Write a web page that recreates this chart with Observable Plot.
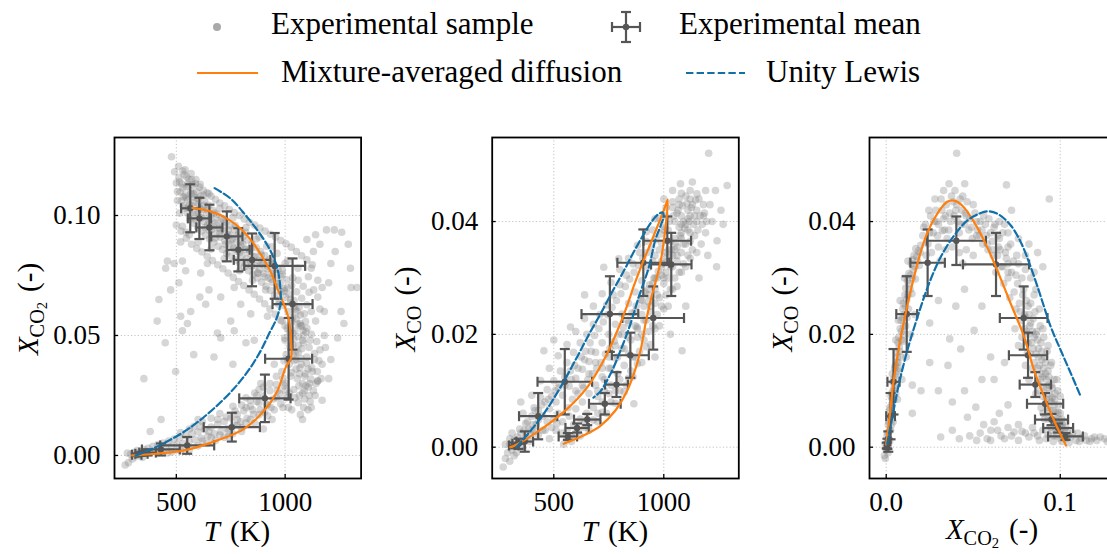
<!DOCTYPE html>
<html><head><meta charset="utf-8">
<script src="https://cdn.jsdelivr.net/npm/d3@7"></script>
<script src="https://cdn.jsdelivr.net/npm/@observablehq/plot@0.6"></script>
<style>
html,body{margin:0;padding:0;background:#fff;overflow:hidden;width:1107px;height:554px;}
#root{position:relative;width:1107px;height:554px;overflow:hidden;font-family:'Liberation Serif',serif;color:#000;}
.panel{position:absolute;top:100px;width:370px;height:454px;}
.lbl{position:absolute;font-size:29px;white-space:nowrap;transform:translate(-50%,-50%);line-height:1;}
.ylbl{transform:translate(-50%,-50%) rotate(-90deg);}
.sub{font-size:0.7em;position:relative;top:0.3em;}
.sub2{font-size:0.72em;position:relative;top:0.22em;}
.par{margin-left:10px;}
#legend{position:absolute;left:0;top:0;}
</style></head><body><div id="root">
<svg id="legend" width="1107" height="100" font-family="'Liberation Serif', serif" font-size="31">
  <circle cx="217" cy="27" r="4" fill="#a9a9a9"></circle>
  <text x="271" y="34">Experimental sample</text>
  <g stroke="#555" stroke-width="2.2" fill="none">
    <line x1="612" y1="27" x2="640" y2="27"></line>
    <line x1="612" y1="22" x2="612" y2="32"></line>
    <line x1="640" y1="22" x2="640" y2="32"></line>
    <line x1="626" y1="12" x2="626" y2="42"></line>
    <line x1="621" y1="12" x2="631" y2="12"></line>
    <line x1="621" y1="42" x2="631" y2="42"></line>
  </g>
  <circle cx="626" cy="27" r="3.2" fill="#555"></circle>
  <text x="679" y="34">Experimental mean</text>
  <line x1="197" y1="73" x2="258" y2="73" stroke="#ff7f0e" stroke-width="2.2"></line>
  <text x="281" y="82">Mixture-averaged diffusion</text>
  <line x1="686" y1="73" x2="745" y2="73" stroke="#1170aa" stroke-width="2.2" stroke-dasharray="7.4,3.2"></line>
  <text x="766" y="82">Unity Lewis</text>
</svg>
<div class="panel" id="p1" style="left:0px"></div>
<div class="panel" id="p2" style="left:375px"></div>
<div class="panel" id="p3" style="left:750px"></div>
<div class="lbl ylbl" style="left:28px;top:309px"><i>X</i><span class="sub">CO<span class="sub2">2</span></span><span class="par">(-)</span></div>
<div class="lbl ylbl" style="left:405px;top:309px"><i>X</i><span class="sub">CO</span><span class="par">(-)</span></div>
<div class="lbl ylbl" style="left:782px;top:309px"><i>X</i><span class="sub">CO</span><span class="par">(-)</span></div>
<div class="lbl" style="left:237px;top:531px"><i>T</i><span class="par">(K)</span></div>
<div class="lbl" style="left:615px;top:531px"><i>T</i><span class="par">(K)</span></div>
<div class="lbl" style="left:992px;top:529px"><i>X</i><span class="sub">CO<span class="sub2">2</span></span><span class="par">(-)</span></div>
</div>
<script>
// ---------- data ----------
const xTicksT = [500, 1000];
const yTicksCO2 = [0, 0.05, 0.10];
const yTicksCO = [0, 0.02, 0.04];
const xTicksCO2 = [0, 0.1];

// experimental means and standard deviations
const meanT   = [318, 340, 368, 429, 550, 755, 907, 1016, 1034, 952, 848, 785, 732, 652, 606, 564];
const sdT     = [22, 28, 38, 87, 124, 129, 118, 108, 92, 140, 84, 52, 72, 60, 53, 42];
const meanCO2 = [.0003, .0007, .0012, .0025, .0042, .0118, .0238, .0403, .0631, .0790, .0815, .0857, .0913, .0950, .0988, .1030];
const sdCO2   = [.0005, .0008, .0012, .0025, .0035, .0060, .0099, .0170, .0190, .0137, .0110, .0090, .0104, .0095, .0086, .0100];
const meanCO  = [.0003, .0006, .0010, .0055, .0116, .0236, .0327, .0366, .0324, .0229, .0163, .0111, .0077, .0049, .0034, .0019];
const sdCO    = [.0005, .0009, .0018, .0041, .0058, .0067, .0059, .0043, .0056, .0056, .0040, .0022, .0019, .0010, .0008, .0006];

// model curves
const mixT_CO2 = [[297,0],[382,.0005],[535,.0021],[689,.0063],[811,.0111],[903,.0186],[965,.027],[1003,.0368],[1027,.0405],[1028,.046],[1018,.0563],[992,.0635],[965,.0694],[934,.0764],[896,.0826],[850,.0889],[796,.0945],[735,.0986],[658,.1017],[574,.1032]];
const lewisT_CO2 = [[313,0],[382,.0025],[520,.009],[620,.0155],[712,.0229],[785,.03],[842,.0368],[890,.044],[926,.0507],[957,.0563],[974,.0610],[980,.0650],[977,.0708],[968,.0764],[949,.082],[919,.0875],[873,.0938],[819,.1],[750,.107],[676,.1114]];
const mixT_CO = [[303,0],[318,.0002],[425,.0027],[561,.0068],[652,.0106],[727,.0154],[782,.0200],[828,.0245],[866,.0288],[905,.0328],[945,.0366],[980,.0400],[1005,.0425],[1018,.0439],[1008,.0390],[986,.0330],[962,.0292],[940,.0260],[917,.0219],[894,.0171],[864,.0130],[827,.0095],[780,.0065],[712,.0038],[636,.0021],[545,.0006]];
const lewisT_CO = [[330,0],[371,.0018],[454,.0059],[530,.0106],[606,.016],[660,.0200],[712,.0236],[765,.0275],[815,.0310],[862,.0345],[905,.0375],[945,.0400],[975,.0413],[995,.0416],[1000,.0410],[985,.0392],[962,.0368],[932,.0319],[886,.0266],[849,.0219],[803,.0171],[758,.013],[710,.0098],[680,.0088]];
const mixCO2_CO = [[0,.0005],[.0019,.0053],[.004,.0112],[.0073,.0177],[.0115,.0242],[.0169,.0313],[.0226,.0372],[.0294,.0414],[.0351,.0435],[.039,.0437],[.0438,.0428],[.0505,.0399],[.0572,.036],[.0639,.0313],[.0716,.0254],[.0793,.0195],[.085,.0136],[.0908,.0089],[.0965,.0047],[.1033,.0003]];
const lewisCO2_CO = [[.0006,.0006],[.0035,.0053],[.0073,.0112],[.0121,.0171],[.0179,.023],[.0246,.029],[.0313,.0337],[.039,.0375],[.0467,.0402],[.0543,.0415],[.0591,.0418],[.0649,.0412],[.0716,.0393],[.0774,.0363],[.0831,.0319],[.0889,.0266],[.0946,.0213],[.1004,.0171],[.1062,.013],[.1119,.0089]];

// experimental samples, panel 1 (T, X_CO2)
const sampleT_CO2 = [
[478,.1245],[492,.1182],[500,.1135],[512,.1158],[505,.1062],[518,.1098],[525,.1131],[531,.1040],[536,.1170],[541,.1085],[546,.1120],[550,.1010],[553,.1065],[558,.1150],[562,.0985],[566,.1102],[571,.1042],[575,.1128],[580,.0968],[584,.1075],[589,.1012],[593,.1100],[598,.0950],[602,.1048],[607,.0992],[611,.1080],[616,.0935],[620,.1025],[625,.0975],[630,.1060],[634,.0918],[639,.1005],[644,.0960],[649,.1042],[653,.0902],[658,.0985],[663,.0942],[668,.1022],[672,.0888],[677,.0968],[682,.0925],[687,.1005],[692,.0872],[697,.0950],[702,.0910],[707,.0988],[712,.0858],[717,.0935],[722,.0895],[727,.0972],[732,.0842],[737,.0918],[742,.0880],[747,.0958],[752,.0830],[757,.0902],[762,.0865],[767,.0942],[772,.0815],[777,.0888],[782,.0850],[787,.0928],[792,.0800],[797,.0873],[802,.0835],[807,.0912],[812,.0785],[817,.0858],[822,.0820],[827,.0898],[832,.0770],[837,.0843],[842,.0805],[847,.0882],[852,.0755],[857,.0828],[862,.0790],[867,.0866],[872,.0740],[877,.0812],[882,.0775],[887,.0850],[892,.0722],[897,.0795],[902,.0758],[907,.0833],[912,.0705],[917,.0778],[922,.0740],[927,.0815],[932,.0688],[937,.0760],[942,.0722],[947,.0796],[952,.0668],[957,.0740],[962,.0702],[967,.0776],[972,.0648],[977,.0718],[982,.0682],[987,.0755],[992,.0625],[997,.0695],[1002,.0660],[1008,.0732],[1013,.0600],[1018,.0672],[1024,.0636],[1030,.0708],[1035,.0575],[1041,.0646],[1047,.0610],[1053,.0682],[1058,.0548],[1064,.0618],[1070,.0585],[1076,.0655],[1082,.0522],[1088,.0590],[1094,.0558],[1100,.0628],
[515,.1010],[528,.0955],[545,.0930],[560,.0920],[520,.0890],[540,.1190],[568,.1175],[590,.1150],[610,.1130],[650,.1090],[700,.1030],[760,.0990],[820,.0950],[880,.0910],[940,.0870],[1000,.0800],[1060,.0730],[1110,.0680],[600,.0890],[660,.0860],[720,.0820],[790,.0770],[850,.0730],[910,.0690],[970,.0630],[1030,.0560],
[510,.1205],[530,.1185],[548,.1160],[570,.1150],[588,.1132],[606,.1118],[624,.1105],[642,.1095],[660,.1080],[680,.1066],[700,.1052],[722,.1040],[744,.1025],[766,.1012],[790,.1000],[812,.0985],[836,.0972],[860,.0960],[884,.0948],[908,.0935],[932,.0922],[956,.0910],[980,.0896],[1004,.0882],[1028,.0868],[1052,.0850],[1076,.0832],[1100,.0815],[1125,.0795],
[500,.0960],[522,.0935],[546,.0905],[570,.0880],[594,.0862],[618,.0848],[642,.0830],[666,.0812],[690,.0795],[714,.0778],[738,.0760],[762,.0742],[786,.0725],[810,.0708],[834,.0690],[858,.0672],[882,.0652],[906,.0632],[930,.0610],[954,.0588],[978,.0565],[1000,.0540],[1020,.0512],[1040,.0485],[1060,.0458],
[533,.1078],[556,.1032],[579,.1090],[603,.1015],[627,.1042],[651,.0975],[675,.1010],[699,.0945],[723,.0985],[747,.0918],[771,.0958],[795,.0890],[819,.0930],[843,.0862],[867,.0902],[891,.0835],[915,.0872],[939,.0805],[963,.0842],[987,.0772],[1011,.0812],[1035,.0740],[1059,.0780],[1083,.0705],[1107,.0745],[1131,.0690],[1150,.0730],[1120,.0600],[1140,.0560],[1160,.0610],[1100,.0530],[1080,.0480],[1115,.0480],[1135,.0400],[1170,.0380],[1185,.0450],
[505,.1100],[515,.1140],[523,.1060],[530,.1115],[538,.1030],[545,.1075],[552,.1130],[560,.1045],[568,.1090],[575,.1005],[583,.1055],[591,.0980],[600,.1070],[608,.1030],[616,.0990],[625,.1085],[633,.0950],[641,.1025],[650,.0940],[660,.1000],[670,.0955],[680,.0905],[690,.0980],[700,.0925],[712,.0960],[725,.0880],[738,.0940],[750,.0895],[765,.0860],[778,.0915],[790,.0845],[805,.0880],[818,.0800],[832,.0860],[846,.0790],[860,.0830],[875,.0760],[890,.0800],[905,.0745],[920,.0790],[935,.0735],[950,.0770],[965,.0715],[980,.0745],[995,.0685],[1010,.0700],[1025,.0650],[1040,.0620],[1055,.0600],[1070,.0540],[1085,.0500],[1045,.0520],[1060,.0430],[1075,.0380],[1090,.0330],[1105,.0360],[1035,.0460],[1050,.0400],[1065,.0340],[1080,.0260],[1095,.0290],[1110,.0250],
[985,.0560],[998,.0490],[1010,.0530],[1022,.0455],[1035,.0510],[1048,.0430],[1060,.0495],[1072,.0405],[1085,.0470],[1098,.0385],[1110,.0450],[1122,.0365],[1135,.0425],[1148,.0350],[1005,.0420],[1018,.0380],[1030,.0345],[1043,.0395],[1056,.0320],[1068,.0365],[1080,.0300],[1093,.0340],[1106,.0285],[1118,.0318],[1130,.0270],[1142,.0300],[1155,.0395],[1165,.0320],[1040,.0275],[1065,.0250],[1090,.0235],[1115,.0225],[1000,.0300],[1020,.0260],[995,.0395],[1075,.0540],[1095,.0515],[1120,.0505],[1145,.0475],[1050,.0570],[1160,.0440],
[1000,.0480],[1012,.0400],[1025,.0330],[1038,.0420],[1050,.0360],[1063,.0290],[1076,.0445],[1088,.0270],[1100,.0410],[1112,.0300],[1125,.0350],[1138,.0250],[1150,.0310],[1060,.0220],[1085,.0200],[1105,.0190],[1045,.0240],[1015,.0200],[1030,.0190],[1070,.0170],
[265,-.0040],[275,.0010],[280,-.0030],[290,.0005],[298,-.0015],[305,.0012],[312,-.0005],[320,.0020],[328,.0002],[336,.0015],[344,-.0008],[352,.0025],[360,.0008],[370,.0030],[380,.0012],[392,.0038],[404,.0018],[416,.0045],[428,.0025],[440,.0052],[452,.0030],[465,.0060],[478,.0038],[490,.0068],[503,.0045],[516,.0075],[530,.0050],[544,.0082],[558,.0058],[572,.0090],[586,.0065],[600,.0098],[615,.0072],[630,.0108],[645,.0080],[660,.0118],[675,.0090],[690,.0130],[705,.0100],[720,.0142],[735,.0112],[750,.0156],[765,.0125],[780,.0170],[795,.0140],[810,.0186],[825,.0155],[840,.0205],[855,.0172],[870,.0225],[885,.0190],[900,.0248],[915,.0212],[930,.0270],[945,.0235],[960,.0295],[975,.0258],[990,.0320],[700,.0175],[760,.0205],[820,.0240],[880,.0275],[740,.0080],[800,.0100],[860,.0135],[920,.0165],[660,.0155],[620,.0140],[580,.0120],[540,.0030],[480,.0015],[950,.0190],[980,.0215],[1005,.0240],
[560,.0025],[600,.0040],[640,.0050],[680,.0062],[720,.0075],[760,.0090],[800,.0115],[840,.0150],[880,.0170],[920,.0210],[960,.0240],[520,.0020],[460,.0010],[420,.0012],[610,.0120],[650,.0100],[690,.0150],[730,.0160],[770,.0185],[800,.0210],[840,.0230],[870,.0250],[900,.0285],[930,.0300],[960,.0330],[985,.0350],[1000,.0270],[990,.0200],[940,.0150],[900,.0110],[560,.0110],[520,.0095],[600,.0150],
[620,.0060],[660,.0075],[700,.0085],[740,.0100],[780,.0125],[820,.0135],[850,.0190],[880,.0220],[905,.0180],[935,.0200],[965,.0270],[995,.0290],[860,.0260],[820,.0200],[780,.0150],
[459,.0810],[451,.0780],[490,.0800],[528,.0810],[543,.0770],[512,.0720],[474,.0690],[612,.0760],[650,.0690],[635,.0630],[566,.0600],[551,.0550],[528,.0520],[420,.0650],[412,.0560],[449,.0470],[643,.0800],[689,.0510],[750,.0560],[766,.0520],[796,.0630],[873,.0760],[858,.0480],[704,.0490],[673,.0410],[497,.0350],[351,.0320],[608,.0660],[704,.0660],[766,.0700],[842,.0590],[919,.0580],[950,.0380],[888,.0300],[1069,.0550],[580,.0420],[520,.0580],[760,.0380],[820,.0470],[1226,.0940],[1303,.0700],[1257,.0600],[1210,.0400],[1149,.0310],[1241,.0490],[1180,.0600],[1200,.0720],[1230,.0850],[1260,.0930],[1290,.0880],[1160,.0880],[1190,.0940],[1210,.0800],[1140,.0920],[1120,.0780],[1170,.0700],[1300,.0780],[1270,.0550],[1150,.0660],[1330,.0700],[1180,.0500],[1130,.0850],[1100,.0900],[1200,.0320],[380,.0100],[430,.0150],[1080,.0150],[1120,.0200],[1170,.0230]
];

// experimental samples, panel 2 (T, X_CO)
const sampleT_CO = [
[545,.0005],[560,.0015],[580,.0010],[600,.0025],[620,.0020],[640,.0035],[660,.0030],[680,.0048],[700,.0045],[720,.0062],[740,.0060],[760,.0080],[780,.0078],[800,.0100],[820,.0098],[840,.0122],[860,.0125],[880,.0148],[900,.0150],[920,.0178],[940,.0182],[960,.0210],[980,.0215],[1000,.0245],[1020,.0250],[1040,.0280],[1060,.0285],[1080,.0310],[1100,.0320],[1120,.0335],
[480,.0015],[510,.0030],[540,.0045],[570,.0055],[600,.0068],[630,.0080],[660,.0095],[690,.0110],[720,.0125],[750,.0140],[780,.0158],[810,.0175],[840,.0195],[870,.0215],[900,.0235],[930,.0258],[960,.0280],[990,.0305],[1020,.0330],[1050,.0350],[1080,.0370],[1110,.0385],[1140,.0375],
[420,.0040],[450,.0055],[480,.0068],[510,.0080],[540,.0092],[570,.0108],[600,.0122],[630,.0138],[660,.0152],[690,.0168],[720,.0185],[750,.0200],[780,.0218],[810,.0236],[840,.0255],[870,.0275],[900,.0295],[930,.0318],[960,.0340],[990,.0362],[1020,.0385],[1050,.0400],[1080,.0410],[1110,.0420],[1140,.0410],
[380,.0045],[410,.0070],[440,.0088],[470,.0102],[500,.0118],[530,.0135],[560,.0150],[590,.0168],[620,.0185],[650,.0200],[680,.0218],[710,.0235],[740,.0252],[770,.0270],[800,.0288],[830,.0305],[860,.0325],[890,.0345],[920,.0365],[950,.0385],[980,.0405],[1010,.0425],[1040,.0435],[1070,.0440],[1100,.0445],
[360,.0060],[400,.0092],[440,.0118],[480,.0140],[520,.0162],[560,.0182],[600,.0205],[640,.0228],[680,.0250],[720,.0272],[760,.0292],[800,.0315],[840,.0335],[880,.0358],[920,.0382],[960,.0405],[1000,.0440],[1040,.0455],
[270,-.0035],[280,-.0020],[290,-.0010],[300,.0005],[310,-.0005],[318,.0012],[326,.0002],[334,.0018],[342,.0008],[350,.0025],[358,.0012],[366,.0030],[374,.0018],[385,.0032],[395,.0022],[405,.0040],[415,.0028],[430,.0022],[450,.0030],[470,.0045],[500,.0050],[520,.0060],[280,.0005],[300,-.0025],[320,-.0015],
[860,.0160],[880,.0195],[900,.0200],[920,.0225],[940,.0240],[960,.0255],[980,.0265],[1000,.0290],[1020,.0300],[1040,.0320],[1060,.0330],[1080,.0345],[1100,.0360],[1120,.0365],[1150,.0345],[1170,.0360],[1190,.0380],[1150,.0420],[1180,.0430],[1120,.0440],[1060,.0415],[1000,.0385],[950,.0330],[980,.0350],[1010,.0345],[1030,.0365],[1070,.0390],[1090,.0400],[760,.0110],[790,.0130],[820,.0145],[840,.0165],[700,.0090],[730,.0100],[650,.0060],[620,.0050],[590,.0040],[560,.0030],[680,.0070],
[300,.0015],[310,.0025],[330,-.0010],[345,.0032],[360,-.0002],[372,.0042],[390,.0010],[400,.0055],[415,.0065],[430,.0048],[445,.0075],[460,.0030],[475,.0085],[490,.0035],[505,.0100],[515,.0042],[525,.0112],[535,.0025],[550,.0125],[565,.0070],[575,.0135],[585,.0085],[595,.0145],[610,.0095],[625,.0160],[635,.0105],[645,.0170],[655,.0120],[665,.0185],[675,.0130],[685,.0198],[695,.0140],[705,.0210],[715,.0150],[725,.0222],[735,.0165],[745,.0235],[755,.0175],[765,.0248],[775,.0188],[785,.0260],[795,.0200],[805,.0272],[815,.0212],[825,.0285],[835,.0225],[845,.0298],[855,.0238],[865,.0310],[875,.0250],[885,.0322],[895,.0262],[905,.0335],[915,.0275],[925,.0345],[935,.0288],[945,.0355],[955,.0300],[965,.0368],[975,.0312],[985,.0378],[995,.0325],[1005,.0390],[1015,.0338],[1025,.0400],[1035,.0350],[1045,.0410],[1055,.0362],[1065,.0420],[1075,.0375],[1085,.0428],[1095,.0388],[1105,.0432],[1115,.0400],[1125,.0425],[1135,.0395],[1145,.0438],[1155,.0385],[1165,.0410],[1175,.0395],[1185,.0415],[1195,.0400],
[830,.0110],[850,.0135],[870,.0160],[890,.0170],[910,.0190],[930,.0205],[950,.0215],[970,.0235],[990,.0250],[1010,.0270],[1030,.0280],[1050,.0300],[1070,.0310],[1090,.0325],[1110,.0340],[1130,.0350],[910,.0250],[930,.0270],[950,.0290],[970,.0300],[990,.0320],[1010,.0310],[1040,.0340],[1060,.0355],[1080,.0380],[1100,.0395],[1120,.0410],[700,.0060],[720,.0080],[750,.0095],[780,.0100],[800,.0120],[640,.0045],[610,.0030],[580,.0020],
[700,.0100],[730,.0120],[760,.0140],[790,.0160],[820,.0175],[850,.0190],[880,.0210],[910,.0225],[940,.0250],[970,.0270],[1000,.0300],[1030,.0320],[1060,.0340],[1090,.0360],[1120,.0380],[1150,.0400],[720,.0140],[750,.0160],[780,.0180],[810,.0200],[840,.0220],[870,.0240],[900,.0260],[930,.0280],[960,.0300],[990,.0330],[1020,.0350],[1050,.0370],[1080,.0395],[1110,.0405],[1010,.0410],[1040,.0425],[1070,.0430],[1130,.0430],[1160,.0440],[1080,.0450],[1120,.0455],[1180,.0410],
[400,.0030],[430,.0065],[460,.0080],[490,.0090],[520,.0105],[550,.0110],[580,.0120],[610,.0140],[640,.0155],[670,.0170],[600,.0100],[630,.0110],[660,.0130],[690,.0150],
[1204,.0521],[1076,.0467],[1288,.0464],[1235,.0455],[1151,.0449],[1242,.0366],[1083,.0171],[879,.0213],[864,.0077],[455,.0171],[576,.0213],[727,.0319],[795,.0334],[1260,.0420],[1220,.0400],[1210,.0430],[1270,.0395],[1190,.0455],[1130,.0470],[1160,.0300],[1200,.0340],[1240,.0320],[1030,.0200],[960,.0160],[1100,.0250],[500,.0190],[640,.0270],[350,.0080]
];

// experimental samples, panel 3 (X_CO2, X_CO)
const sampleCO2_CO = [
[-.0010,-.0015],[0,-.0005],[.0005,.0010],[-.0005,.0005],[.0010,0],[.0008,.0025],[.0015,.0015],[.0012,.0040],[.0020,.0030],[.0025,.0055],[.0018,.0065],[.0030,.0075],[.0035,.0060],[.0028,.0090],[.0040,.0100],[.0045,.0085],[.0038,.0115],[.0050,.0125],[.0058,.0110],[.0048,.0140],[.0062,.0150],[.0070,.0135],[.0060,.0168],[.0075,.0178],[.0085,.0160],[.0072,.0195],[.0088,.0205],[.0098,.0188],[.0085,.0225],[.0102,.0235],[.0112,.0215],[.0098,.0255],[.0118,.0262],[.0128,.0245],[.0112,.0282],[.0135,.0290],[.0148,.0272],[.0130,.0308],[.0155,.0315],[.0168,.0298],[.0150,.0332],[.0175,.0338],[.0190,.0322],[.0170,.0352],[.0198,.0358],[.0040,.0045],[.0065,.0085],[.0090,.0120],[.0115,.0160],[.0140,.0200],[.0165,.0235],[.0080,.0260],[.0105,.0300],[.0125,.0330],
[.0005,.0020],[.0015,.0045],[.0022,.0070],[.0032,.0095],[.0042,.0120],[.0052,.0145],[.0065,.0160],[.0068,.0185],[.0080,.0210],[.0092,.0230],[.0095,.0245],[.0108,.0270],[.0122,.0295],[.0140,.0305],[.0145,.0325],[.0160,.0340],[.0185,.0348],[.0020,.0010],[.0030,.0040],[.0055,.0095],[.0075,.0140],[.0100,.0200],[.0120,.0230],[.0035,.0130],[.0055,.0190],[.0070,.0225],[-.0005,-.0020],[.0010,-.0010],
[.0025,.0030],[.0035,.0085],[.0045,.0105],[.0055,.0130],[.0068,.0150],[.0078,.0170],[.0088,.0190],[.0100,.0215],[.0110,.0250],[.0125,.0270],[.0138,.0280],[.0150,.0300],[.0165,.0320],[.0180,.0330],[.0195,.0345],
[.0210,.0375],[.0225,.0395],[.0240,.0360],[.0255,.0410],[.0270,.0380],[.0285,.0420],[.0300,.0395],[.0315,.0440],[.0330,.0405],[.0345,.0430],[.0360,.0385],[.0375,.0445],[.0390,.0410],[.0405,.0430],[.0420,.0380],[.0435,.0420],[.0450,.0395],[.0465,.0435],[.0480,.0405],[.0495,.0370],[.0510,.0415],[.0525,.0385],[.0540,.0400],[.0555,.0360],[.0570,.0395],[.0585,.0350],[.0600,.0380],[.0230,.0340],[.0260,.0345],[.0300,.0355],[.0340,.0350],[.0380,.0355],[.0420,.0345],[.0460,.0350],[.0500,.0340],[.0280,.0440],[.0330,.0455],[.0395,.0455],[.0440,.0445],[.0350,.0370],[.0310,.0330],[.0440,.0325],
[.0215,.0390],[.0245,.0420],[.0275,.0400],[.0295,.0375],[.0320,.0420],[.0335,.0385],[.0365,.0415],[.0385,.0435],[.0410,.0400],[.0425,.0440],[.0455,.0415],[.0475,.0385],[.0500,.0430],[.0520,.0400],[.0535,.0375],[.0560,.0410],[.0575,.0375],[.0590,.0405],[.0610,.0365],[.0625,.0395],[.0640,.0375],[.0655,.0350],[.0670,.0380],[.0685,.0345],[.0700,.0325],[.0715,.0360],[.0730,.0330],[.0745,.0305],[.0760,.0325],[.0780,.0300],
[.0250,.0380],[.0290,.0400],[.0340,.0410],[.0370,.0400],[.0400,.0420],[.0430,.0395],[.0460,.0410],[.0490,.0390],[.0520,.0375],[.0550,.0385],[.0580,.0360],[.0610,.0350],[.0640,.0340],[.0670,.0320],[.0700,.0310],
[.0615,.0340],[.0630,.0310],[.0645,.0355],[.0660,.0320],[.0675,.0290],[.0690,.0335],[.0700,.0300],[.0710,.0265],[.0720,.0310],[.0735,.0275],[.0745,.0245],[.0755,.0290],[.0765,.0255],[.0775,.0225],[.0785,.0270],[.0795,.0235],[.0805,.0205],[.0815,.0250],[.0825,.0215],[.0835,.0185],[.0845,.0228],[.0850,.0195],[.0860,.0165],[.0865,.0205],[.0875,.0175],[.0880,.0145],[.0890,.0185],[.0895,.0155],[.0900,.0125],[.0910,.0160],[.0915,.0130],[.0920,.0105],[.0930,.0135],[.0935,.0110],[.0940,.0085],[.0950,.0110],[.0955,.0088],[.0960,.0065],[.0968,.0085],[.0975,.0062],[.0980,.0045],[.0988,.0062],[.0995,.0042],[.1000,.0028],[.1010,.0040],[.1015,.0022],[.1025,.0030],[.1035,.0015],[.1045,.0020],[.0780,.0195],[.0810,.0165],[.0840,.0140],[.0870,.0115],[.0900,.0090],[.0925,.0070],[.0950,.0050],[.0975,.0032],[.0820,.0120],[.0860,.0095],[.0890,.0070],[.0910,.0050],[.0940,.0035],[.0960,.0020],[.0800,.0145],[.0760,.0180],[.0740,.0210],[.0880,.0245],[.0850,.0270],[.0900,.0210],[.0930,.0180],[.0950,.0150],[.0980,.0120],[.1000,.0090],
[.0790,.0280],[.0805,.0260],[.0820,.0235],[.0830,.0255],[.0840,.0205],[.0855,.0240],[.0870,.0190],[.0885,.0215],[.0895,.0170],[.0905,.0195],[.0915,.0150],[.0925,.0170],[.0935,.0125],[.0945,.0145],[.0955,.0105],[.0965,.0120],[.0970,.0095],[.0985,.0100],[.0990,.0075],[.1000,.0060],[.1008,.0050],[.1020,.0045],[.1030,.0035],[.1040,.0028],[.0870,.0140],[.0885,.0120],[.0905,.0105],[.0920,.0085],[.0940,.0065],[.0960,.0048],[.0980,.0035],[.1000,.0015],[.0830,.0165],[.0850,.0150],[.0815,.0185],[.0795,.0210],[.0770,.0240],
[.0800,.0230],[.0815,.0200],[.0830,.0220],[.0845,.0175],[.0860,.0200],[.0875,.0160],[.0890,.0130],[.0905,.0140],[.0920,.0120],[.0935,.0095],[.0950,.0080],[.0965,.0075],[.0975,.0050],[.0990,.0050],[.1005,.0035],[.1020,.0020],[.0880,.0100],[.0900,.0060],[.0930,.0050],[.0950,.0030],[.0980,.0020],[.1010,.0010],
[.0650,.0370],[.0700,.0355],[.0750,.0340],[.0800,.0315],[.0830,.0300],[.0860,.0280],[.0620,.0390],[.0680,.0395],[.0760,.0370],[.0820,.0360],[.0870,.0345],[.0900,.0320],
[.0313,.0018],[.0601,.0030],[.0735,.0027],[.0515,.0071],[.0467,.0053],[.0560,.0040],[.0620,.0045],[.0660,.0020],[.0700,.0035],[.0760,.0040],[.0800,.0025],[.0840,.0035],[.0870,.0020],[.0900,.0030],[.0920,.0015],[.0480,.0020],[.0520,.0012],[.0580,.0015],[.0650,.0060],[.0700,.0075],[.1060,.0018],[.1090,.0012],[.1120,.0016],[.1150,.0012],[.1180,.0015],[.1210,.0012],[.1254,.0015],[.1290,.0013],[.1196,.0018],[.1100,.0025],[.1050,.0008],
[.0380,.0030],[.0420,.0015],[.0540,.0025],[.0600,.0012],[.0640,.0030],[.0680,.0015],[.0720,.0020],[.0760,.0012],[.0780,.0028],[.0820,.0018],[.0850,.0025],[.0880,.0012],[.0930,.0022],[.0960,.0010],[.1070,.0025],[.1110,.0010],[.1140,.0020],[.1170,.0010],[.1230,.0018],[.1270,.0010],[.1310,.0015],
[.0323,.0384],[.0365,.0192],[.0355,.0145],[.0428,.0174],[.0505,.0207],[.0405,.0521],[.0361,.0467],[.0451,.0467],[.0691,.0465],[.0937,.0440],[.0300,.0260],[.0250,.0220],[.0400,.0250],[.0450,.0280],[.0550,.0250],[.0600,.0160],[.0550,.0120],[.0450,.0100],[.0380,.0080],[.0300,.0100],[.0250,.0150],[.0200,.0100],[.0150,.0060],[.0650,.0400],[.0700,.0380],[.0720,.0420],[.0800,.0340],[.0850,.0310],[.0620,.0120],[.0680,.0150],[.0150,.0110]
];

// ---------- drawing ----------
const ORANGE = "#ff7f0e", BLUE = "#1170aa", ERR = "#555555";
const means = meanT.map((t, i) => ({T: t, sT: sdT[i], CO2: meanCO2[i], sCO2: sdCO2[i], CO: meanCO[i], sCO: sdCO[i]}));
const hcap = {draw(ctx, size) { const r = Math.sqrt(size / Math.PI); ctx.moveTo(-r, 0); ctx.lineTo(r, 0); }};
const vcap = {draw(ctx, size) { const r = Math.sqrt(size / Math.PI); ctx.moveTo(0, -r); ctx.lineTo(0, r); }};

function panel(id, cfg) {
  const {kx, ky} = cfg;
  const skx = "s" + kx, sky = "s" + ky;
  const ebar = {stroke: ERR, strokeWidth: 2.2};
  const gridStyle = {stroke: "#bbbbbb", strokeOpacity: 1, strokeWidth: 0.9, strokeDasharray: "1.2,2.2"};
  const chart = Plot.plot({
    width: 370, height: 454,
    marginLeft: cfg.ml, marginRight: 370 - cfg.ml - 246.6, marginTop: 37, marginBottom: 76,
    x: {domain: cfg.xd, axis: null, label: null},
    y: {domain: cfg.yd, axis: null, label: null},
    style: {fontFamily: "'Liberation Serif', serif", fontSize: "27px", color: "#000", background: "transparent", overflow: "visible"},
    marks: [
      Plot.gridX(cfg.xt, gridStyle),
      Plot.gridY(cfg.yt, gridStyle),
      Plot.dot(cfg.samples, {x: d => d[0], y: d => d[1], r: 3.8, fill: "#808080", fillOpacity: 0.32, stroke: "none", clip: true}),
      Plot.ruleY(means, {y: ky, x1: d => d[kx] - d[skx], x2: d => d[kx] + d[skx], ...ebar}),
      Plot.ruleX(means, {x: kx, y1: d => d[ky] - d[sky], y2: d => d[ky] + d[sky], ...ebar}),
      Plot.dot(means, {x: d => d[kx] - d[skx], y: ky, symbol: vcap, r: 5, fill: "none", ...ebar}),
      Plot.dot(means, {x: d => d[kx] + d[skx], y: ky, symbol: vcap, r: 5, fill: "none", ...ebar}),
      Plot.dot(means, {x: kx, y: d => d[ky] - d[sky], symbol: hcap, r: 5, fill: "none", ...ebar}),
      Plot.dot(means, {x: kx, y: d => d[ky] + d[sky], symbol: hcap, r: 5, fill: "none", ...ebar}),
      Plot.dot(means, {x: kx, y: ky, r: 3.2, fill: ERR, stroke: "none"}),
      Plot.line(cfg.mix, {x: d => d[0], y: d => d[1], stroke: ORANGE, strokeWidth: 2.2, curve: "catmull-rom", clip: true}),
      Plot.line(cfg.lewis, {x: d => d[0], y: d => d[1], stroke: BLUE, strokeWidth: 2.2, strokeDasharray: "7.4,3.2", curve: "catmull-rom", clip: true}),
      Plot.axisX(cfg.xt, {anchor: "bottom", tickSize: 4, dy: -4, fill: "none", stroke: "#000", strokeWidth: 1.3, label: null}),
      Plot.axisY(cfg.yt, {anchor: "left", tickSize: 4, dx: 4, fill: "none", stroke: "#000", strokeWidth: 1.3, label: null}),
      Plot.axisX(cfg.xt, {anchor: "bottom", tickSize: 0, tickPadding: 13, tickFormat: cfg.xf, label: null, fill: "#000"}),
      Plot.axisY(cfg.yt, {anchor: "left", tickSize: 0, tickPadding: 14, tickFormat: cfg.yf, label: null, fill: "#000"}),
      Plot.frame({stroke: "#000", strokeWidth: 1.8})
    ]
  });
  document.getElementById(id).appendChild(chart);
}

panel("p1", {kx: "T", ky: "CO2", ml: 114, xd: [216, 1349], yd: [-0.0096, 0.1325], xt: xTicksT, yt: yTicksCO2, xf: d3.format("d"), yf: d3.format(".2f"), samples: sampleT_CO2, mix: mixT_CO2, lewis: lewisT_CO2});
panel("p2", {kx: "T", ky: "CO", ml: 116.7, xd: [220, 1341], yd: [-0.00555, 0.0549], xt: xTicksT, yt: yTicksCO, xf: d3.format("d"), yf: d3.format(".2f"), samples: sampleT_CO, mix: mixT_CO, lewis: lewisT_CO});
panel("p3", {kx: "CO2", ky: "CO", ml: 119, xd: [-0.0096, 0.1321], yd: [-0.00555, 0.0549], xt: xTicksCO2, yt: yTicksCO, xf: d3.format(".1f"), yf: d3.format(".2f"), samples: sampleCO2_CO, mix: mixCO2_CO, lewis: lewisCO2_CO});
</script>
</body></html>
